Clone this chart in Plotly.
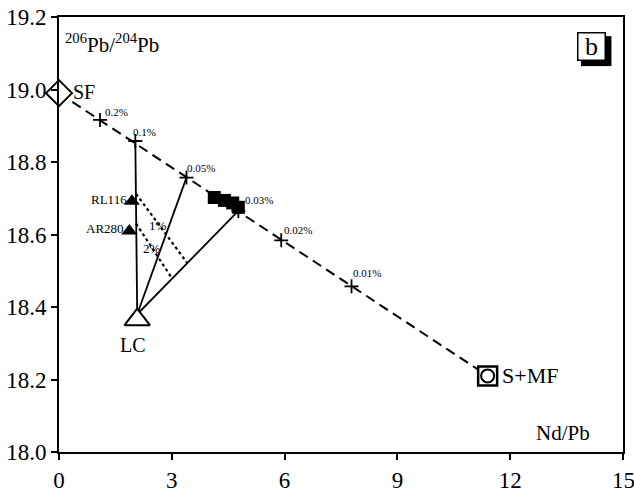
import plotly.graph_objects as go

# ---- data ----
sf_x, sf_y = [0.0], [18.99]
smf_x, smf_y = [11.40], [18.21]

mix_labels = ["0.2%", "0.1%", "0.05%", "0.03%", "0.02%", "0.01%"]
mix_x = [1.09, 2.03, 3.39, 4.77, 5.91, 7.78]
mix_y = [18.916, 18.858, 18.757, 18.665, 18.584, 18.457]

lc_x, lc_y = [2.08], [18.365]

tri_labels = ["RL116", "AR280"]
tri_x = [1.94, 1.87]
tri_y = [18.692, 18.610]

sq_x = [4.13, 4.40, 4.62, 4.77]
sq_y = [18.702, 18.694, 18.687, 18.675]

# dotted lines (start, end)
dot1_x, dot1_y = [2.05, 3.42], [18.712, 18.520]
dot2_x, dot2_y = [2.05, 3.00], [18.630, 18.480]
dot_labels = ["1%", "2%"]
dot_lab_x = [2.64, 2.48]
dot_lab_y = [18.625, 18.561]

x_ticks = [0, 3, 6, 9, 12, 15]
x_ticktext = ["0", "3", "6", "9", "12", "15"]
y_ticks = [18.0, 18.2, 18.4, 18.6, 18.8, 19.0, 19.2]

FONT = "Liberation Serif"
fig = go.Figure()

# dashed mixing line SF -> S+MF
fig.add_trace(go.Scatter(x=sf_x + smf_x, y=sf_y + smf_y, mode="lines",
                         line=dict(color="black", width=2, dash="10px,6px"),
                         hoverinfo="skip"))
# solid lines from LC to mixing points 0.1%, 0.05%, 0.03%
for i in (1, 2, 3):
    fig.add_trace(go.Scatter(x=[lc_x[0], mix_x[i]], y=[lc_y[0] + 0.015, mix_y[i]],
                             mode="lines", line=dict(color="black", width=1.8),
                             hoverinfo="skip"))
# dotted lines
for dx, dy in ((dot1_x, dot1_y), (dot2_x, dot2_y)):
    fig.add_trace(go.Scatter(x=dx, y=dy, mode="lines",
                             line=dict(color="black", width=2.2, dash="3px,3px"),
                             hoverinfo="skip"))
# crosses on mixing line
fig.add_trace(go.Scatter(x=mix_x, y=mix_y, mode="markers",
                         marker=dict(symbol="cross-thin", size=10,
                                     line=dict(color="black", width=1.8)),
                         hoverinfo="skip"))
# filled squares
fig.add_trace(go.Scatter(x=sq_x, y=sq_y, mode="markers",
                         marker=dict(symbol="square", size=13, color="black"),
                         hoverinfo="skip"))
# filled triangles
fig.add_trace(go.Scatter(x=tri_x, y=tri_y, mode="markers",
                         marker=dict(symbol="triangle-up", size=14, color="black"),
                         hoverinfo="skip"))
# LC open triangle
fig.add_trace(go.Scatter(x=lc_x, y=lc_y, mode="markers",
                         marker=dict(symbol="triangle-up", size=22, color="white",
                                     line=dict(color="black", width=2)),
                         hoverinfo="skip"))
# SF open diamond
fig.add_trace(go.Scatter(x=sf_x, y=sf_y, mode="markers", cliponaxis=False,
                         marker=dict(symbol="diamond", size=20, color="white",
                                     line=dict(color="black", width=2)),
                         hoverinfo="skip"))
# S+MF square with circle
fig.add_trace(go.Scatter(x=smf_x, y=smf_y, mode="markers",
                         marker=dict(symbol="square", size=19, color="white",
                                     line=dict(color="black", width=2.5)),
                         hoverinfo="skip"))
fig.add_trace(go.Scatter(x=smf_x, y=smf_y, mode="markers",
                         marker=dict(symbol="circle", size=13, color="white",
                                     line=dict(color="black", width=2)),
                         hoverinfo="skip"))

ann = []
pct_shift = [(3, 8), (-4, 9), (-1, 10), (5, 11), (1, 10), (-1, 13)]
for lab, x, y, (xs, ys) in zip(mix_labels, mix_x, mix_y, pct_shift):
    ann.append(dict(x=x, y=y, text=lab, showarrow=False, xanchor="left",
                    yanchor="middle", xshift=xs, yshift=ys,
                    font=dict(family=FONT, size=11, color="black")))
for lab, x, y in zip(tri_labels, tri_x, tri_y):
    ann.append(dict(x=x, y=y, text=lab, showarrow=False, xanchor="right",
                    yanchor="middle", xshift=-3, yshift=2,
                    font=dict(family=FONT, size=13, color="black")))
for lab, x, y in zip(dot_labels, dot_lab_x, dot_lab_y):
    ann.append(dict(x=x, y=y, text=lab, showarrow=False,
                    font=dict(family=FONT, size=13, color="black")))
ann.append(dict(x=sf_x[0], y=sf_y[0], text="SF", showarrow=False, xanchor="left",
                xshift=12, yshift=1, font=dict(family=FONT, size=20, color="black")))
ann.append(dict(x=smf_x[0], y=smf_y[0], text="S+MF", showarrow=False, xanchor="left",
                xshift=12, font=dict(family=FONT, size=22, color="black")))
ann.append(dict(x=lc_x[0], y=lc_y[0], text="LC", showarrow=False, yanchor="top",
                xshift=-4, yshift=-12, font=dict(family=FONT, size=20, color="black")))
ann.append(dict(x=0.007, y=0.94, xref="paper", yref="paper",
                text="<sup>206</sup>Pb/<sup>204</sup>Pb", showarrow=False,
                xanchor="left", yanchor="middle",
                font=dict(family=FONT, size=21, color="black")))
ann.append(dict(x=0.894, y=0.044, xref="paper", yref="paper", text="Nd/Pb",
                showarrow=False, xanchor="center", yanchor="middle",
                font=dict(family=FONT, size=21, color="black")))
# last x tick label, which sits at the page edge
ann.append(dict(x=x_ticks[-1], y=0, xref="x", yref="paper", text=x_ticktext[-1],
                showarrow=False, xanchor="center", yanchor="top", yshift=-14,
                font=dict(family=FONT, size=23, color="black")))
# panel label b (box drawn by the annotation border, shadow by a shape)
bx0, bx1, by0, by1 = 0.918, 0.972, 0.8966, 0.9655
ann.append(dict(x=(bx0 + bx1) / 2, y=(by0 + by1) / 2, xref="paper", yref="paper",
                text="b", showarrow=False, width=26, height=26,
                bgcolor="white", bordercolor="black", borderwidth=1.5, borderpad=0,
                xanchor="center", yanchor="middle",
                font=dict(family=FONT, size=26, color="black")))

shapes = [
    dict(type="rect", xref="paper", yref="paper", x0=bx0 + 0.0075, x1=bx1 + 0.0075,
         y0=by0 - 0.0095, y1=by1 - 0.0095, fillcolor="black", line=dict(width=0)),
]

axis_common = dict(showgrid=False, zeroline=False, showline=True, linecolor="black",
                   linewidth=2, mirror=True, ticks="outside", ticklen=6, tickwidth=2,
                   tickcolor="black", automargin=False,
                   tickfont=dict(family=FONT, size=23, color="black"))
fig.update_layout(
    width=634, height=492, margin=dict(l=59, r=11, t=17, b=40),
    paper_bgcolor="white", plot_bgcolor="white", showlegend=False,
    xaxis=dict(range=[0, 15], tickvals=x_ticks,
               ticktext=x_ticktext[:-1] + [""], ticklabelstandoff=0, **axis_common),
    yaxis=dict(range=[18.0, 19.2], tickvals=y_ticks,
               ticktext=[f"{v:.1f}" for v in y_ticks], **axis_common),
    annotations=ann, shapes=shapes,
)
fig.write_html("out.html")
